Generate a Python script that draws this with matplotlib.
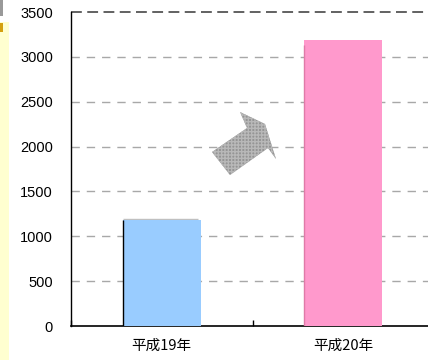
import matplotlib
matplotlib.use("Agg")
import matplotlib.pyplot as plt
from matplotlib.patches import Polygon, Rectangle

categories = ["平成19年", "平成20年"]
values = [1180, 3190]
colors = ["#99CCFF", "#FF99CC"]
yticks = [0, 500, 1000, 1500, 2000, 2500, 3000, 3500]

W, H = 428, 360
fig = plt.figure(figsize=(W / 100, H / 100), dpi=100)
fig.patch.set_facecolor("white")

def px(x, y):
    return (x / W, 1 - y / H)

# left decorative strip
fig.patches.append(Rectangle(px(0, 360), 9 / W, 338 / H, transform=fig.transFigure,
                             facecolor="#FFFFD0", edgecolor="none", zorder=0))
fig.patches.append(Rectangle(px(0, 16), 3 / W, 16 / H, transform=fig.transFigure,
                             facecolor="#999999", edgecolor="none", zorder=1))
fig.patches.append(Rectangle(px(0, 32), 3 / W, 9 / H, transform=fig.transFigure,
                             facecolor="#D4A010", edgecolor="none", zorder=1))

ax = fig.add_axes([71 / W, 1 - 326 / H, (434 - 71) / W, 314 / H])
ax.set_facecolor("white")

x = list(range(len(categories)))
bars = ax.bar(x, values, width=0.43, color=colors, edgecolor="none", zorder=3)
# thin left edges
ax.vlines(bars[0].get_x(), 0, values[0], color="black", lw=1.0, zorder=4)
ax.hlines(values[0] + 8, bars[0].get_x(), bars[0].get_x() + bars[0].get_width() * 0.96,
          color="#c0c0c0", lw=1.0, zorder=2)
ax.vlines(bars[1].get_x(), 0, values[1] - 60, color="#e07aa8", lw=1.0, zorder=4)

ax.set_xlim(-0.5, 1.5)
ax.set_ylim(0, 3500)
ax.set_yticks(yticks)
ax.set_yticklabels([str(v) for v in yticks], fontfamily="Liberation Sans", fontsize=10.5)
ax.tick_params(axis="y", length=0, pad=13)

ax.set_xticks([-0.5, 0.5, 1.5], minor=False)
ax.set_xticklabels(["", "", ""])
ax.tick_params(axis="x", direction="in", length=4, width=1, color="black")
ax.set_xticks(x, minor=True)
ax.set_xticklabels(categories, minor=True, fontfamily=["Noto Sans CJK JP", "DejaVu Sans"], fontsize=10.5)
ax.tick_params(axis="x", which="minor", length=0, pad=9)

for v in yticks[1:-1]:
    ax.axhline(v, color="#a8a8a8", lw=1.0, ls=(0, (6, 5)), zorder=1)
ax.axhline(3500, color="#555555", lw=1.3, ls=(0, (6, 3)), zorder=1, clip_on=False)

for s in ["top", "right"]:
    ax.spines[s].set_visible(False)
ax.spines["left"].set_linewidth(1.0)
ax.spines["bottom"].set_linewidth(1.2)

# arrow
pts = [(240, 112), (265, 124), (276, 159), (268, 148), (230, 175), (212, 152), (247, 128)]
arrow = Polygon([px(a, b) for a, b in pts], closed=True, transform=fig.transFigure,
                facecolor="#959595", edgecolor="#b8b8b8", hatch="+++++", lw=0, zorder=5)
fig.patches.append(arrow)

fig.savefig("out.png", dpi=100)
